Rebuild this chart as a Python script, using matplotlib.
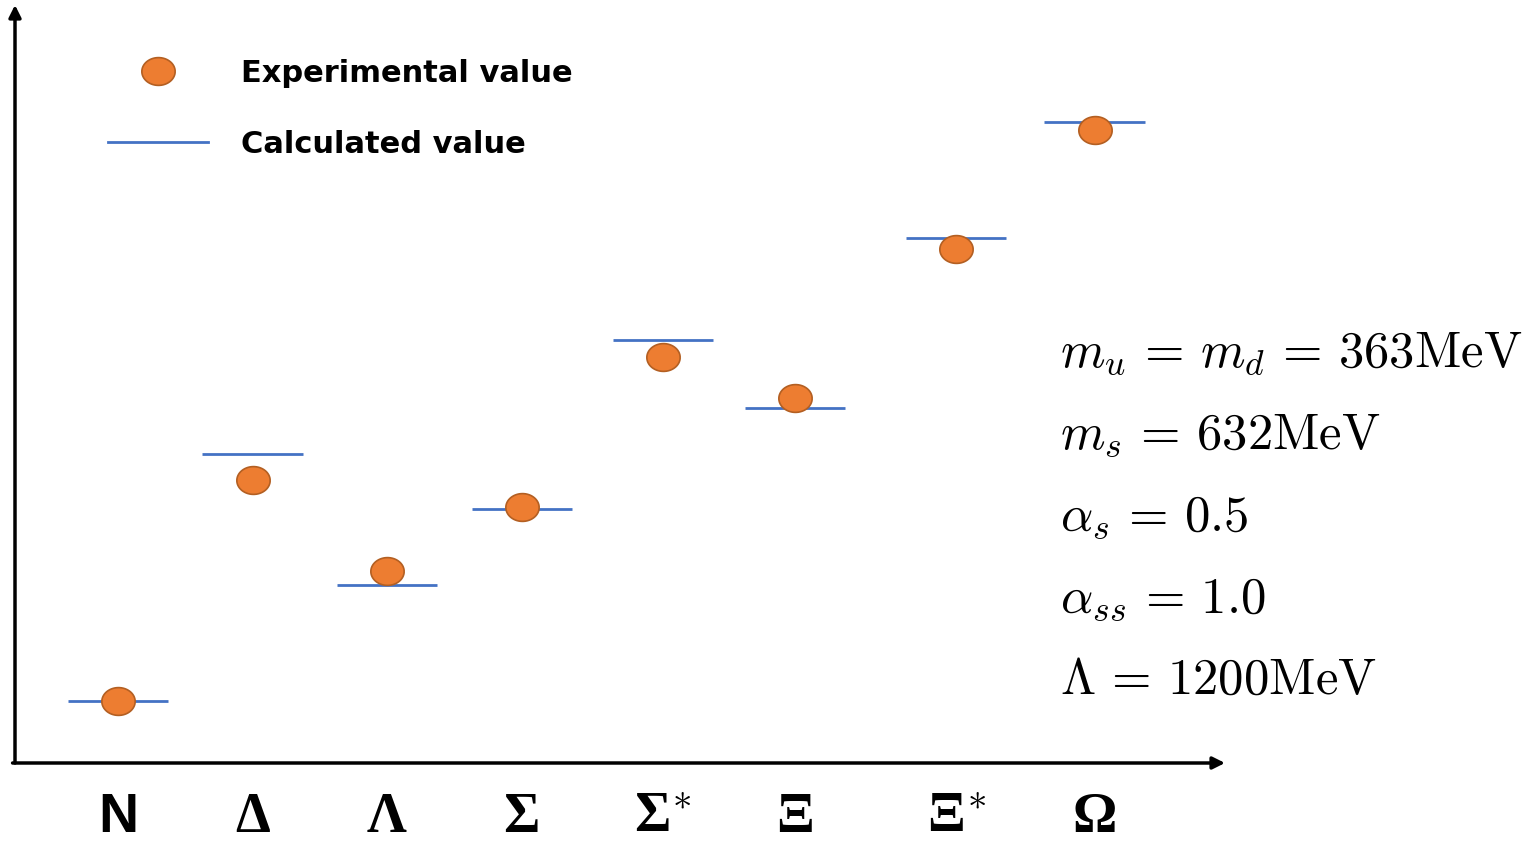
import matplotlib.pyplot as plt
import numpy as np
from matplotlib.lines import Line2D

plt.rcParams['mathtext.fontset'] = 'cm'

# baryons on the x axis
baryons = ['N', 'Δ', 'Λ', 'Σ', 'Σ$^{*}$', 'Ξ', 'Ξ$^{*}$', 'Ω']
x_pos = [0, 1, 2, 3, 4.05, 5.03, 6.23, 7.26]

# masses in MeV
m_exp = [939, 1223, 1106, 1188, 1381, 1328, 1519, 1672]
m_calc = [939, 1256, 1088, 1186, 1402, 1315, 1533, 1682]

params = [r'$m_u\,=\,m_d\,=\,363\mathrm{MeV}$',
          r'$m_s\,=\,632\mathrm{MeV}$',
          r'$\alpha_s\,=\,0.5$',
          r'$\alpha_{ss}\,=\,1.0$',
          r'$\Lambda\,=\,1200\mathrm{MeV}$']

W, H = 1529, 842
fig = plt.figure(figsize=(W / 100, H / 100), dpi=100)
ax = fig.add_axes([15 / W, 79 / H, 1210 / W, 758 / H])
ax.set_xlim(-0.766, 8.23)
ax.set_ylim(859.4, 1832.5)

# calculated values as short bars
half = 0.372
ax.hlines(m_calc, np.array(x_pos) - half, np.array(x_pos) + half,
          color='#4472C4', lw=2, zorder=2)

# experimental values as orange ellipses
t = np.linspace(0, 2 * np.pi, 60)
ell = np.column_stack([1.2 * np.cos(t), np.sin(t)])
ax.plot(x_pos, m_exp, ls='none', marker=ell, ms=24, mfc='#ED7D31',
        mec='#B35F22', mew=1.2, zorder=3)

# axes drawn as arrows
for s in ax.spines.values():
    s.set_visible(False)
ax.annotate('', xy=(0, 1.0), xytext=(0, 0), xycoords='axes fraction',
            arrowprops=dict(arrowstyle='-|>', lw=2.5, color='black',
                            mutation_scale=18, shrinkA=0, shrinkB=0))
ax.annotate('', xy=(1.0, 0), xytext=(-0.002, 0), xycoords='axes fraction',
            arrowprops=dict(arrowstyle='-|>', lw=2.5, color='black',
                            mutation_scale=18, shrinkA=0, shrinkB=0))

ax.set_yticks([])
ax.set_xticks(x_pos, baryons)
ax.tick_params(axis='x', length=0, pad=21)
for lab in ax.get_xticklabels():
    if lab.get_text() == 'N':
        lab.set_fontfamily('Liberation Sans')
    else:
        lab.set_fontfamily('Liberation Serif')
    lab.set_fontsize(40)
    lab.set_fontweight('bold')

# legend
handles = [Line2D([], [], ls='none', marker=ell, ms=24, mfc='#ED7D31',
                  mec='#B35F22', mew=1.2),
           Line2D([], [], color='#4472C4', lw=2)]
ax.legend(handles, ['Experimental value', 'Calculated value'],
          loc='upper left', bbox_to_anchor=(108 / W, 1 - 59 / H),
          bbox_transform=fig.transFigure, frameon=False,
          prop={'family': 'DejaVu Sans', 'weight': 'bold', 'size': 22},
          handlelength=3.27, handletextpad=1.09, labelspacing=1.38,
          borderpad=0, borderaxespad=0)

# model parameters
for i, p in enumerate(params):
    fig.text(1060 / W, 1 - (366 + 82 * i) / H, p, fontsize=36.5,
             va='baseline', ha='left')

fig.savefig('out.png', dpi=100)
